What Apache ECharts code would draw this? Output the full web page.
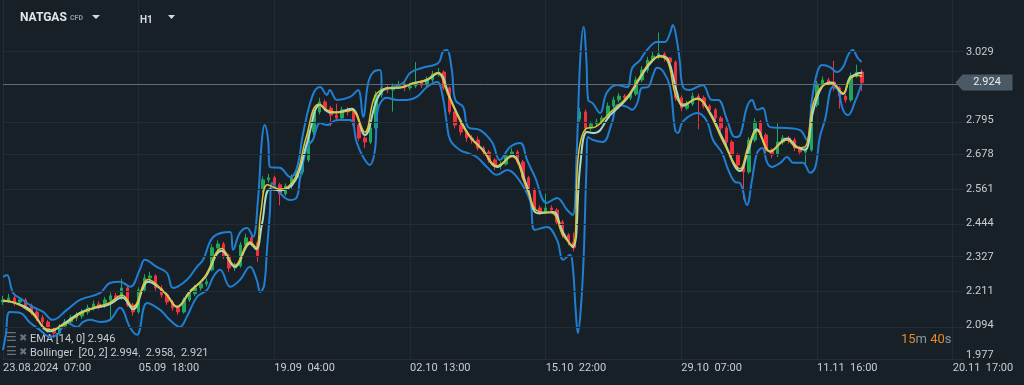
<!DOCTYPE html>
<html><head><meta charset="utf-8">
<script src="https://cdn.jsdelivr.net/npm/echarts@6.0.0/dist/echarts.min.js"></script>
<style>html,body{margin:0;padding:0;background:#182027;}#c{width:1024px;height:385px;}</style>
</head><body><div id="c"></div>
<script>
// ---- data ----
const timeLabels = ['23.08.2024  07:00','05.09  18:00','19.09  04:00','02.10  13:00','15.10  22:00','29.10  07:00','11.11  16:00','20.11  17:00'];
const slotsPerLabel = 24;
const totalSlots = 171;
const yTicks = [1.977,2.094,2.211,2.327,2.444,2.561,2.678,2.795,3.029];
const lastPrice = 2.924;
const emaParams = [14, 0];
const bollParams = [20, 2];
const countdown = ['15', '40'];

const opens = [2.175,2.182,2.189,2.175,2.182,2.162,2.141,2.121,2.107,2.080,
 2.069,2.093,2.107,2.121,2.127,2.141,2.155,2.168,2.162,2.182,
 2.196,2.189,2.223,2.165,2.141,2.216,2.257,2.264,2.223,2.199,
 2.175,2.155,2.141,2.182,2.203,2.223,2.237,2.285,2.360,2.373,
 2.332,2.291,2.298,2.370,2.394,2.377,2.560,2.592,2.599,2.575,
 2.544,2.571,2.599,2.619,2.660,2.755,2.824,2.858,2.837,2.813,
 2.803,2.831,2.824,2.779,2.735,2.721,2.769,2.882,2.906,2.899,
 2.912,2.919,2.906,2.912,2.926,2.916,2.933,2.953,2.960,2.906,
 2.824,2.779,2.755,2.735,2.728,2.701,2.687,2.660,2.639,2.646,
 2.674,2.687,2.653,2.599,2.558,2.496,2.482,2.496,2.489,2.448,
 2.404,2.380,2.800,2.824,2.769,2.783,2.790,2.803,2.844,2.865,
 2.878,2.872,2.885,2.933,2.967,3.001,3.015,3.022,3.008,2.994,
 2.872,2.837,2.851,2.878,2.872,2.844,2.831,2.803,2.769,2.721,
 2.677,2.643,2.619,2.728,2.790,2.745,2.694,2.677,2.721,2.735,
 2.728,2.701,2.687,2.694,2.848,2.919,2.933,2.926,2.906,2.878,
 2.865,2.947,2.960];
const closes = [2.182,2.189,2.175,2.182,2.162,2.141,2.121,2.107,2.080,2.069,
 2.093,2.107,2.121,2.127,2.141,2.155,2.168,2.162,2.182,2.196,
 2.189,2.223,2.165,2.141,2.216,2.257,2.264,2.223,2.199,2.175,
 2.155,2.141,2.182,2.203,2.223,2.237,2.244,2.360,2.373,2.332,
 2.291,2.298,2.370,2.394,2.377,2.332,2.592,2.599,2.575,2.544,
 2.571,2.599,2.619,2.660,2.755,2.824,2.858,2.837,2.813,2.803,
 2.831,2.824,2.779,2.735,2.721,2.769,2.882,2.906,2.899,2.912,
 2.919,2.906,2.912,2.926,2.916,2.933,2.953,2.960,2.906,2.824,
 2.779,2.755,2.735,2.728,2.701,2.687,2.660,2.639,2.646,2.674,
 2.687,2.653,2.599,2.558,2.496,2.482,2.496,2.489,2.448,2.404,
 2.380,2.360,2.824,2.769,2.783,2.790,2.803,2.844,2.865,2.878,
 2.872,2.885,2.933,2.967,3.001,3.015,3.022,3.008,2.994,2.872,
 2.837,2.851,2.878,2.872,2.844,2.831,2.803,2.769,2.721,2.677,
 2.643,2.619,2.728,2.790,2.745,2.694,2.677,2.721,2.735,2.728,
 2.701,2.687,2.694,2.848,2.919,2.933,2.926,2.906,2.878,2.865,
 2.947,2.960,2.924];
const lows = [2.165,2.172,2.162,2.168,2.151,2.131,2.110,2.095,2.070,2.052,
 2.060,2.085,2.098,2.110,2.118,2.132,2.146,2.150,2.155,2.110,
 2.178,2.182,2.158,2.128,2.135,2.208,2.245,2.214,2.190,2.165,
 2.145,2.131,2.135,2.175,2.196,2.214,2.228,2.280,2.350,2.322,
 2.278,2.281,2.292,2.362,2.365,2.312,2.548,2.582,2.565,2.505,
 2.538,2.562,2.590,2.610,2.652,2.745,2.815,2.826,2.775,2.792,
 2.796,2.812,2.770,2.725,2.700,2.714,2.762,2.872,2.888,2.825,
 2.902,2.895,2.898,2.905,2.905,2.908,2.925,2.944,2.898,2.815,
 2.768,2.744,2.722,2.716,2.692,2.676,2.650,2.626,2.628,2.640,
 2.668,2.645,2.590,2.548,2.486,2.472,2.475,2.478,2.438,2.394,
 2.368,2.348,2.790,2.755,2.760,2.775,2.782,2.798,2.836,2.856,
 2.860,2.864,2.878,2.925,2.958,2.994,3.005,2.996,2.984,2.862,
 2.826,2.830,2.844,2.765,2.836,2.822,2.792,2.758,2.710,2.666,
 2.632,2.525,2.612,2.720,2.735,2.684,2.666,2.670,2.712,2.716,
 2.690,2.676,2.640,2.688,2.840,2.910,2.915,2.895,2.835,2.855,
 2.858,2.940,2.895];
const highs = [2.196,2.203,2.199,2.192,2.189,2.170,2.150,2.131,2.114,2.090,
 2.100,2.117,2.131,2.140,2.150,2.166,2.180,2.178,2.192,2.207,
 2.206,2.255,2.230,2.172,2.225,2.270,2.278,2.270,2.232,2.206,
 2.182,2.162,2.190,2.213,2.233,2.247,2.256,2.372,2.385,2.380,
 2.340,2.310,2.380,2.408,2.404,2.384,2.604,2.612,2.606,2.582,
 2.580,2.610,2.630,2.672,2.766,2.836,2.872,2.866,2.845,2.852,
 2.842,2.840,2.832,2.786,2.742,2.780,2.894,2.940,2.915,2.921,
 2.930,2.926,2.922,2.994,2.930,2.945,2.964,2.974,2.966,2.912,
 2.830,2.786,2.762,2.745,2.740,2.708,2.694,2.666,2.655,2.690,
 2.700,2.694,2.660,2.606,2.565,2.505,2.545,2.505,2.495,2.455,
 2.410,2.412,2.838,2.832,2.792,2.800,2.812,2.856,2.876,2.888,
 2.885,2.895,2.945,2.980,3.012,3.030,3.095,3.030,3.012,3.000,
 2.880,2.862,2.890,2.886,2.880,2.850,2.838,2.810,2.776,2.728,
 2.684,2.650,2.738,2.802,2.796,2.752,2.700,2.785,2.745,2.742,
 2.736,2.708,2.702,2.858,2.930,2.945,2.940,2.998,2.912,2.885,
 2.958,2.985,2.970];

// indicator lines: [bar position, price]
const emaLine = [[0,2.181],[2.1,2.172],[4.8,2.142],[8.3,2.080],[11,2.100],[13.6,2.134],[16.3,2.158],[18.6,2.170],[21.1,2.198],[23,2.158],[25.7,2.252],[28.7,2.205],[30.8,2.160],[33.1,2.208],[35.7,2.262],[38.7,2.358],[41,2.300],[43.7,2.380],[44.8,2.360],[45.6,2.480],[46.8,2.575],[49,2.560],[51.7,2.600],[53.6,2.735],[55.8,2.850],[57.8,2.826],[59.6,2.822],[61.7,2.830],[64,2.755],[65.8,2.878],[67.9,2.905],[70.2,2.908],[72.5,2.920],[75,2.935],[76.8,2.958],[78.8,2.880],[80.8,2.795],[82.6,2.738],[84.9,2.692],[87.4,2.640],[90,2.672],[92.7,2.560],[94.6,2.485],[97.3,2.478],[99,2.405],[100.8,2.368],[101.8,2.680],[103.2,2.768],[104.7,2.772],[107.4,2.822],[110.4,2.875],[112.7,2.945],[114.5,2.995],[116.2,3.012],[117.6,2.995],[119,2.880],[120.3,2.850],[122.8,2.868],[125.1,2.815],[127.4,2.722],[130.4,2.630],[131.8,2.705],[133.4,2.760],[135.7,2.690],[138.7,2.728],[140.5,2.702],[141.9,2.705],[143.3,2.850],[144.9,2.912],[146.6,2.920],[148.6,2.888],[149.8,2.935],[151.2,2.948],[152,2.946]];
const bbMiddle = [[0,2.179],[2.1,2.172],[4.8,2.148],[8.3,2.075],[11,2.104],[13.6,2.138],[16.3,2.155],[18.6,2.165],[21.1,2.190],[23,2.150],[25.7,2.244],[28.7,2.206],[30.8,2.158],[33.1,2.212],[35.7,2.258],[38.7,2.350],[41,2.295],[43.7,2.375],[44.8,2.355],[45.8,2.440],[47.2,2.560],[49,2.556],[51.7,2.590],[53.8,2.720],[56.1,2.848],[57.8,2.822],[59.6,2.824],[61.7,2.835],[64,2.745],[66.2,2.868],[67.9,2.905],[70.2,2.906],[72.5,2.922],[75,2.933],[77,2.957],[79.1,2.870],[80.8,2.800],[82.6,2.740],[84.9,2.694],[87.4,2.636],[90,2.675],[92.7,2.570],[94.6,2.478],[97.3,2.482],[99,2.415],[100.8,2.362],[102.1,2.640],[103.3,2.755],[104.7,2.752],[107.4,2.813],[110.4,2.870],[112.7,2.940],[114.5,2.990],[116.2,3.015],[117.6,3.005],[119.2,2.892],[120.3,2.845],[122.8,2.870],[125.1,2.820],[127.4,2.730],[130.4,2.622],[131.8,2.690],[133.4,2.765],[135.7,2.688],[138.7,2.733],[140.5,2.704],[141.9,2.695],[143.3,2.825],[144.9,2.910],[146.6,2.924],[148.6,2.885],[149.8,2.940],[151.2,2.955],[152,2.958]];
const bbUpper = [[0,2.261],[0.7,2.267],[1.8,2.206],[3.5,2.182],[5.3,2.158],[7.1,2.141],[8.8,2.114],[11.3,2.148],[13.6,2.182],[17.2,2.206],[18.9,2.240],[20.7,2.244],[22.5,2.227],[24.2,2.285],[25.1,2.319],[27.2,2.295],[29,2.274],[30.1,2.223],[32.5,2.250],[34.3,2.295],[35.4,2.319],[37.2,2.397],[40.2,2.414],[40.7,2.353],[41.9,2.411],[43.2,2.428],[44.2,2.397],[45.1,2.523],[45.8,2.728],[46.3,2.779],[46.9,2.728],[47.2,2.636],[49,2.633],[50.8,2.602],[52,2.633],[53.1,2.752],[54.8,2.882],[56.1,2.909],[57.3,2.882],[57.8,2.899],[59.1,2.865],[61.4,2.875],[62.8,2.899],[63.7,2.807],[64.6,2.923],[65.5,2.960],[66.7,2.967],[67.2,2.899],[69,2.909],[70.8,2.923],[72,2.957],[74.1,2.974],[77,2.991],[77.8,3.029],[78.5,3.035],[79.4,2.967],[80,2.865],[81.4,2.841],[82.3,2.772],[84.4,2.762],[86.5,2.721],[87.9,2.660],[89.7,2.704],[91.5,2.718],[92.7,2.660],[94.1,2.602],[96.2,2.513],[98,2.530],[99.8,2.489],[100.8,2.472],[101.5,2.694],[102.1,3.001],[102.7,3.114],[103.2,3.001],[103.5,2.865],[104.3,2.854],[105.6,2.820],[106.8,2.889],[108.6,2.916],[110.4,2.909],[111.3,2.974],[112.7,3.001],[113.9,3.035],[115.7,3.063],[117.1,3.063],[118,3.093],[118.5,3.121],[119.2,3.069],[119.7,3.001],[120.3,2.909],[121.5,2.899],[122.8,2.909],[123.8,2.916],[125.4,2.865],[126.5,2.865],[128.1,2.796],[129.5,2.738],[130.4,2.745],[131.6,2.841],[132.5,2.865],[133.4,2.831],[134.4,2.837],[135.7,2.772],[138.7,2.769],[141,2.762],[142.2,2.728],[143.1,2.865],[144,2.957],[144.9,2.984],[146.3,2.977],[147.5,2.960],[148.6,2.977],[149.5,3.018],[150.3,3.035],[151.2,3.008],[151.9,2.994]];
const bbLower = [[0,2.011],[0.5,2.063],[1.2,2.141],[3,2.138],[4.8,2.104],[6.5,2.080],[8.3,2.056],[9.6,2.063],[11.3,2.104],[13.1,2.090],[14.2,2.107],[15.4,2.114],[17.2,2.107],[18.9,2.114],[20.7,2.155],[22.5,2.087],[23.7,2.063],[25.5,2.172],[27.8,2.148],[29.5,2.114],[31.3,2.090],[32.5,2.124],[34.3,2.192],[36.1,2.216],[37.2,2.261],[38.4,2.285],[40.2,2.227],[41.9,2.250],[43.7,2.295],[44.9,2.250],[45.5,2.209],[46.2,2.233],[46.7,2.353],[47.2,2.479],[47.6,2.581],[49,2.547],[50.8,2.523],[52,2.534],[52.5,2.592],[53.8,2.704],[54.8,2.728],[56.1,2.786],[57.3,2.779],[59.1,2.796],[61.4,2.796],[62.6,2.718],[63.7,2.670],[64.9,2.643],[65.8,2.694],[66.3,2.831],[67.9,2.872],[69.7,2.865],[71.5,2.865],[73.2,2.875],[75,2.909],[76.8,2.926],[77.8,2.875],[78.5,2.786],[79.1,2.728],[80.8,2.694],[82.1,2.684],[83.8,2.670],[85.6,2.636],[87.4,2.609],[89.2,2.626],[90.9,2.602],[93.2,2.523],[94.1,2.421],[96.2,2.431],[98,2.387],[99.1,2.319],[100.3,2.336],[100.8,2.295],[101.3,2.148],[101.7,2.069],[102.2,2.148],[102.7,2.319],[103.2,2.626],[103.5,2.738],[104.4,2.728],[106.1,2.721],[107.7,2.786],[108.8,2.848],[110.4,2.841],[111.3,2.831],[112.2,2.854],[113,2.906],[114.1,2.909],[115,2.950],[115.7,2.975],[116.8,2.962],[118,2.909],[118.9,2.762],[119.4,2.752],[120.1,2.786],[121.2,2.807],[122.8,2.820],[124.5,2.793],[125.6,2.728],[127.2,2.684],[128.3,2.626],[129.5,2.585],[130.4,2.581],[131.6,2.506],[132.5,2.592],[133.4,2.684],[134.3,2.701],[135.2,2.650],[136,2.636],[137.5,2.650],[138.7,2.670],[139.8,2.650],[141.5,2.650],[142.8,2.616],[143.7,2.636],[144.5,2.738],[145.4,2.796],[146.8,2.909],[147.7,2.899],[148.6,2.831],[149.5,2.813],[150.7,2.858],[151.9,2.921]];

// ---- build ----
const categories = Array.from({length: totalSlots}, (_, i) => i % slotsPerLabel === 0 ? (timeLabels[i / slotsPerLabel] || '') : '');
const candleData = closes.map((c, i) => [opens[i], c, lows[i], highs[i]]);
const last = a => a[a.length - 1][1].toFixed(3);
const gridCol = '#232c35';
const txtCol = '#c9cdd1';
const FONT = 'Roboto, "Noto Sans", sans-serif';

const chart = echarts.init(document.getElementById('c'), null, {renderer: 'canvas'});
const lineBase = {type: 'line', xAxisIndex: 1, yAxisIndex: 0, smooth: 0.4, showSymbol: false, symbol: 'none', silent: true, animation: false};

chart.setOption({
  backgroundColor: '#182027',
  animation: false,
  grid: {left: 3, right: 60, top: 0, bottom: 25, containLabel: false},
  xAxis: [
    {type: 'category', data: categories, boundaryGap: false, gridIndex: 0,
     axisLine: {show: false}, axisTick: {show: false},
     axisLabel: {interval: (i) => i % slotsPerLabel === 0, align: 'left', color: txtCol, fontSize: 11, fontFamily: FONT, margin: 3, showMaxLabel: true, hideOverlap: false},
     splitLine: {show: true, interval: (i) => i % slotsPerLabel === 0, lineStyle: {color: gridCol, width: 1}}},
    {type: 'value', min: 0, max: totalSlots - 1, gridIndex: 0, show: false}
  ],
  yAxis: [{type: 'value', position: 'right', min: 1.977, max: 3.206, scale: true,
    axisLine: {show: false}, axisTick: {show: false}, splitLine: {show: false},
    axisLabel: {customValues: yTicks, color: txtCol, fontSize: 11, fontFamily: FONT, margin: 2, align: 'left',
      formatter: v => v <= yTicks[0] + 1e-6 ? '{low|' + v.toFixed(3) + '}' : v.toFixed(3),
      rich: {low: {color: txtCol, fontSize: 11, fontFamily: FONT, padding: [0, 0, 10, 0]}}}}],
  series: [
    {type: 'candlestick', xAxisIndex: 0, yAxisIndex: 0, data: candleData, barWidth: 3, z: 2,
     itemStyle: {color: '#1fa55c', color0: '#f0313f', borderColor: '#1fa55c', borderColor0: '#f0313f', borderWidth: 1},
     markLine: {silent: true, symbol: 'none', animation: false, label: {show: false},
       lineStyle: {color: gridCol, type: 'solid', width: 1},
       data: yTicks.map(v => ({yAxis: v}))}},
    Object.assign({}, lineBase, {name: 'upper', data: bbUpper, z: 3, lineStyle: {color: '#1f7fd4', width: 2}}),
    Object.assign({}, lineBase, {name: 'lower', data: bbLower, z: 3, lineStyle: {color: '#1f7fd4', width: 2}}),
    Object.assign({}, lineBase, {name: 'mid', data: bbMiddle, z: 4, lineStyle: {color: '#a3dccd', width: 2}}),
    Object.assign({}, lineBase, {name: 'ema', data: emaLine, z: 5, lineStyle: {color: '#e2c12e', width: 1.5},
      markLine: {silent: true, symbol: 'none', animation: false, label: {show: false},
        lineStyle: {color: '#5d6c77', type: 'solid', width: 1}, data: [{yAxis: lastPrice}]},
      markPoint: {silent: true, animation: false, symbol: 'path://M0,8L7,0L57,0L57,16L7,16Z', symbolSize: [57, 16], symbolKeepAspect: false,
        symbolOffset: [20, 0], itemStyle: {color: '#4a5966'},
        label: {show: true, position: 'inside', offset: [3, 0], color: '#e8ecef', fontSize: 11, fontFamily: FONT, formatter: () => lastPrice.toFixed(3)},
        data: [{coord: [totalSlots - 1, lastPrice]}]}})
  ],
  graphic: [
    {type: 'text', left: 20, top: 12, silent: true, style: {text: 'NATGAS', fill: '#e3e6e9', font: 'bold 12px ' + FONT}},
    {type: 'text', left: 70, top: 15, silent: true, style: {text: 'CFD', fill: '#8d979f', font: 'bold 7px ' + FONT}},
    {type: 'polygon', silent: true, shape: {points: [[92, 15], [100, 15], [96, 19]]}, style: {fill: '#d5d9dd'}},
    {type: 'text', left: 140, top: 15, silent: true, style: {text: 'H1', fill: '#d5d9dd', font: 'bold 10px ' + FONT}},
    {type: 'polygon', silent: true, shape: {points: [[168, 15], [175, 15], [171.5, 19]]}, style: {fill: '#d5d9dd'}},
    {type: 'text', left: 6, top: 332, silent: true, style: {text: '☰', fill: '#6a737b', font: '12px "DejaVu Sans"'}},
    {type: 'text', left: 19, top: 333, silent: true, style: {text: '✖', fill: '#6a737b', font: '10px "DejaVu Sans"'}},
    {type: 'text', left: 30, top: 334, silent: true, style: {text: 'EMA [' + emaParams.join(', ') + '] ' + last(emaLine), fill: txtCol, font: '11px ' + FONT}},
    {type: 'text', left: 6, top: 346, silent: true, style: {text: '☰', fill: '#6a737b', font: '12px "DejaVu Sans"'}},
    {type: 'text', left: 19, top: 347, silent: true, style: {text: '✖', fill: '#6a737b', font: '10px "DejaVu Sans"'}},
    {type: 'text', left: 30, top: 348, silent: true, style: {text: 'Bollinger  [' + bollParams.join(', ') + '] ' + last(bbUpper) + ',  ' + last(bbMiddle) + ',  ' + last(bbLower), fill: txtCol, font: '11px ' + FONT}},
    {type: 'text', left: 901, top: 333, silent: true, style: {
      text: '{n|' + countdown[0] + '}{u|m }{n|' + countdown[1] + '}{u|s}',
      rich: {n: {fill: '#e38a22', font: '13px ' + FONT}, u: {fill: '#8e969d', font: '13px ' + FONT}}}}
  ]
});
</script></body></html>
